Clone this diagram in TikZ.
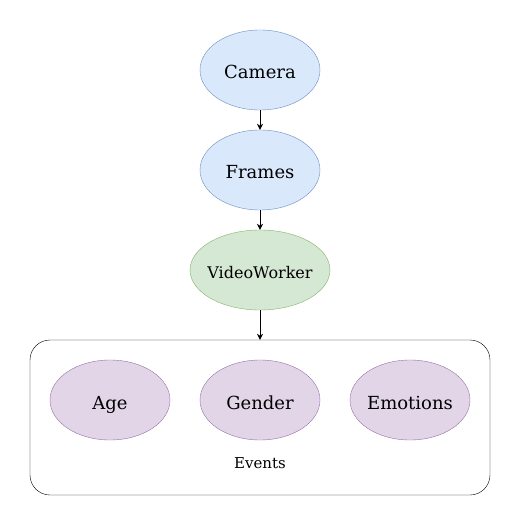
\documentclass[tikz,border=0pt]{standalone}
\usepackage{fontspec}
\setmainfont{DejaVu Serif}
\usetikzlibrary{arrows.meta, shapes.geometric}
\definecolor{bluefill}{HTML}{DAE8FC}
\definecolor{bluedraw}{HTML}{6C8EBF}
\definecolor{greenfill}{HTML}{D5E8D4}
\definecolor{greendraw}{HTML}{82B366}
\definecolor{purplefill}{HTML}{E1D5E7}
\definecolor{purpledraw}{HTML}{9673A6}
\begin{document}
\begin{tikzpicture}[x=1pt, y=-1pt]
		\tikzset{
			oval/.style={ellipse, minimum width=120pt, minimum height=80pt, inner sep=0pt, inner xsep=-6pt, text height=20pt, text depth=2pt, font=\fontsize{18}{21}\selectfont},
			source/.style={oval, fill=bluefill, draw=bluedraw},
			worker/.style={oval, minimum width=140pt, inner xsep=-8pt, text height=18pt, fill=greenfill, draw=greendraw, font=\fontsize{16}{19}\selectfont},
			event/.style={oval, fill=purplefill, draw=purpledraw},
			flow/.style={-{Stealth[length=6pt, width=6pt]}, black},
		}
		\useasboundingbox (0,0) rectangle (521,526);
		
		% The pipeline.
		\node[source] (camera) at (260,70)  {Camera};
		\node[source] (frames) at (260,170) {Frames};
		\node[worker] (worker) at (260,270) {VideoWorker};
		
		% The box round the events.
		\node[draw, rounded corners=20pt, minimum width=460pt, minimum height=155pt, inner sep=0pt] (events) at (260,417.5) {};
		\node[font=\fontsize{15}{18}\selectfont, anchor=base] (eventslabel) at (260,468) {Events};
		
		% The events themselves.
		\node[event] (age)      at (110,400) {Age};
		\node[event] (gender)   at (260,400) {Gender};
		\node[event] (emotions) at (410,400) {Emotions};
		
		% Arrows down the pipeline.
		\draw[flow] (camera) -- (frames);
		\draw[flow] (frames) -- (worker);
		\draw[flow] (worker) -- (events);
	\end{tikzpicture}
\end{document}
